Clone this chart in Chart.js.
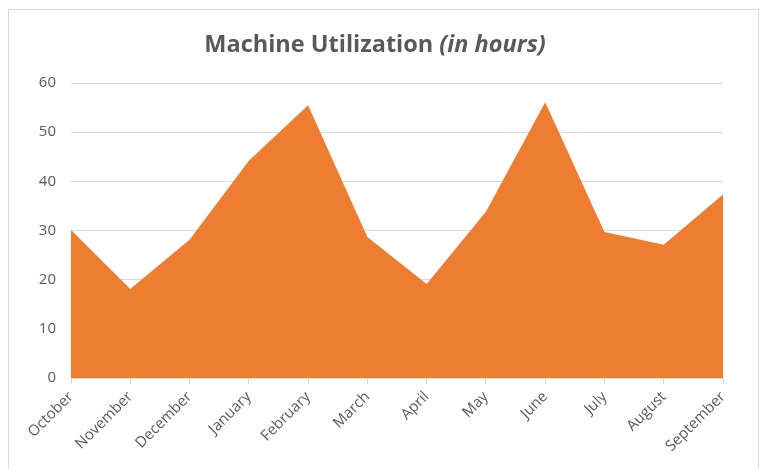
<!DOCTYPE html>
<html>
<head>
<meta charset="utf-8">
<script src="https://cdn.jsdelivr.net/npm/chart.js@4"></script>
<style>
  html, body { margin: 0; padding: 0; background: #fff; }
  #wrap { position: relative; width: 766px; height: 469px; overflow: hidden; }
  #frame { position: absolute; left: 8px; top: 9px; width: 751px; height: 470px;
           border: 1px solid #d9d9d9; border-bottom: none; box-sizing: border-box; }
  #chart { position: absolute; left: 0; top: 0; }
</style>
</head>
<body>
<div id="wrap">
  <div id="frame"></div>
  <canvas id="chart" width="766" height="469"></canvas>
</div>
<script>
const months = ['October', 'November', 'December', 'January', 'February', 'March',
                'April', 'May', 'June', 'July', 'August', 'September'];
const hours = [30.1, 18.1, 28.1, 44.2, 55.5, 28.7, 19.1, 33.8, 56.1, 29.7, 27.1, 37.3];
const yTicks = [0, 10, 20, 30, 40, 50, 60];

const textGray = '#595959';
const gridGray = '#d9d9d9';
const font = '"Open Sans", "Liberation Sans", sans-serif';

// title has a bold part and a bold italic part, so draw it ourselves
const titlePlugin = {
    id: 'mixedTitle',
    afterDraw(chart) {
        const ctx = chart.ctx;
        const a = 'Machine Utilization ';
        const b = '(in hours)';
        ctx.save();
        ctx.fillStyle = textGray;
        ctx.textBaseline = 'alphabetic';
        ctx.font = 'bold 23.5px ' + font;
        const wa = ctx.measureText(a).width;
        ctx.font = 'italic bold 23.5px ' + font;
        const wb = ctx.measureText(b).width;
        const x0 = 375 - (wa + wb) / 2;
        ctx.font = 'bold 23.5px ' + font;
        ctx.fillText(a, x0, 52);
        ctx.font = 'italic bold 23.5px ' + font;
        ctx.fillText(b, x0 + wa, 52);
        ctx.restore();
    }
};

new Chart(document.getElementById('chart'), {
    type: 'line',
    data: {
        labels: months,
        datasets: [{
            data: hours,
            fill: 'origin',
            backgroundColor: '#ed7d31',
            borderColor: '#ed7d31',
            borderWidth: 0,
            pointRadius: 0,
            tension: 0,
        }],
    },
    options: {
        responsive: false,
        animation: false,
        layout: { padding: { left: 0, right: 43, top: 83, bottom: 0 } },
        plugins: {
            legend: { display: false },
            title: { display: false },
            tooltip: { enabled: false },
        },
        scales: {
            x: {
                offset: false,
                grid: {
                    display: true,
                    drawOnChartArea: false,
                    drawTicks: true,
                    tickLength: 6,
                    color: gridGray,
                },
                border: { color: gridGray },
                ticks: {
                    color: textGray,
                    font: { family: font, size: 15 },
                    minRotation: 45,
                    maxRotation: 45,
                    autoSkip: false,
                    padding: 4,
                },
                afterFit(scale) { scale.height = 91; },
            },
            y: {
                min: 0,
                max: 60,
                afterBuildTicks(scale) { scale.ticks = yTicks.map(v => ({ value: v })); },
                grid: { color: gridGray, drawTicks: false },
                border: { display: false },
                ticks: {
                    color: textGray,
                    font: { family: font, size: 15 },
                    padding: 15,
                },
                afterFit(scale) { scale.width = 71; },
            },
        },
    },
    plugins: [titlePlugin],
});
</script>
</body>
</html>
